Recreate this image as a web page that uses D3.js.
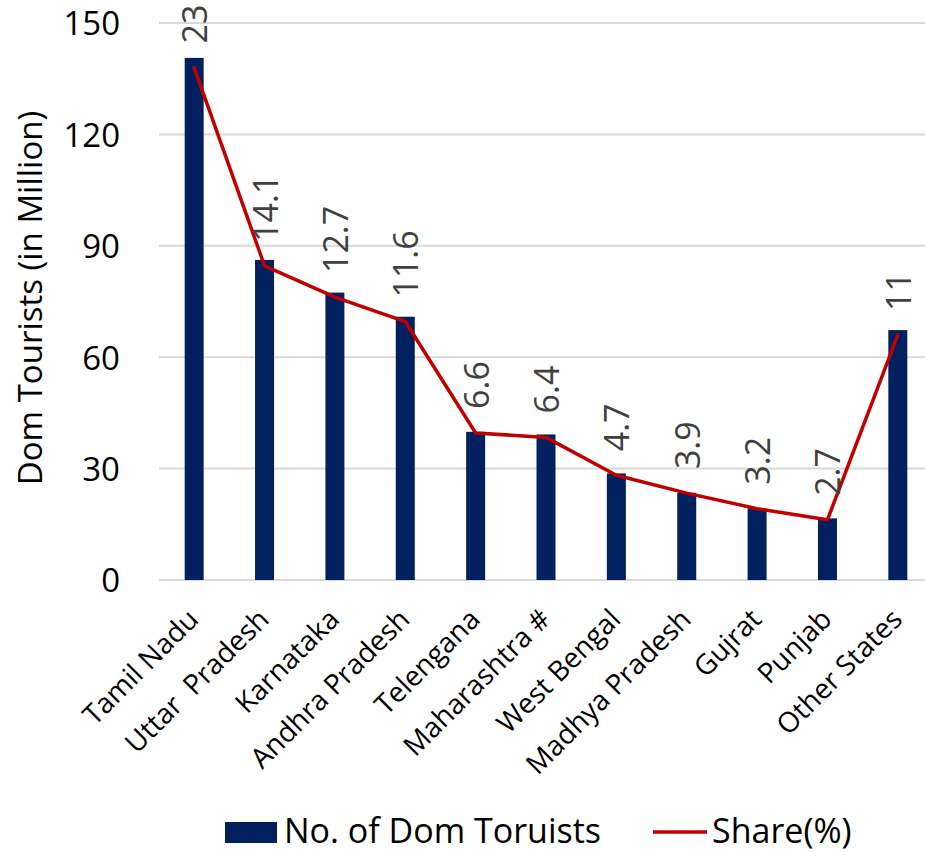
<!DOCTYPE html>
<html>
<head>
<meta charset="utf-8">
<script src="https://cdn.jsdelivr.net/npm/d3@7"></script>
<style>
  html, body { margin: 0; padding: 0; background: #fff; }
  svg { display: block; font-family: "Open Sans", sans-serif; }
</style>
</head>
<body>
<svg id="chart" width="925" height="852"></svg>
<script>
// values
var categories = ["Tamil Nadu", "Uttar  Pradesh", "Karnataka", "Andhra Pradesh", "Telengana",
    "Maharashtra #", "West Bengal", "Madhya Pradesh", "Gujrat", "Punjab", "Other States"];
var tourists = [140.6, 86.2, 77.4, 70.9, 39.9, 39.2, 28.7, 23.5, 19.3, 16.6, 67.3];
var share = [23, 14.1, 12.7, 11.6, 6.6, 6.4, 4.7, 3.9, 3.2, 2.7, 11];
var yTicks = [0, 30, 60, 90, 120, 150];
var seriesNames = ["No. of Dom Toruists", "Share(%)"];

var navy = "#002060",
    red = "#c00000";

var svg = d3.select("#chart");

var plotL = 159, plotR = 933, plotT = 23, plotB = 580;

var x = d3.scaleBand().domain(categories).range([plotL, plotR]).paddingInner(0.73).paddingOuter(0.365);
var y = d3.scaleLinear().domain([0, 150]).range([plotB, plotT]);
var y2 = d3.scaleLinear().domain([0, 25]).range([plotB, plotT]);

function cx(d){ return x(d) + x.bandwidth() / 2; }

// gridlines
svg.append("g").selectAll("line")
    .data(yTicks)
    .enter().append("line")
    .attr("x1", plotL).attr("x2", 925)
    .attr("y1", function(d){ return y(d); })
    .attr("y2", function(d){ return y(d); })
    .attr("stroke", "#d9d9d9")
    .attr("stroke-width", 2);

// left axis labels
var yAxis = svg.append("g")
    .attr("transform", "translate(120,0)")
    .call(d3.axisLeft(y).tickValues(yTicks).tickSize(0).tickPadding(0));
yAxis.select(".domain").remove();
yAxis.selectAll("text")
    .attr("font-family", "Open Sans")
    .attr("font-size", 33)
    .attr("fill", "#000")
    .attr("dy", "0.36em");

// axis title
svg.append("text")
    .attr("transform", "translate(42,298) rotate(-90)")
    .attr("text-anchor", "middle")
    .attr("font-size", 33)
    .attr("fill", "#000")
    .text("Dom Tourists (in Million)");

// bars
svg.append("g").selectAll("rect")
    .data(categories)
    .enter().append("rect")
    .attr("x", function(d){ return x(d); })
    .attr("width", x.bandwidth())
    .attr("y", function(d, i){ return y(tourists[i]); })
    .attr("height", function(d, i){ return y(0) - y(tourists[i]); })
    .attr("fill", navy);

// share line
var line = d3.line()
    .x(function(d, i){ return cx(categories[i]); })
    .y(function(d){ return y2(d); });

svg.append("path")
    .datum(share)
    .attr("d", line)
    .attr("fill", "none")
    .attr("stroke", red)
    .attr("stroke-width", 3.5)
    .attr("stroke-linejoin", "round")
    .attr("stroke-linecap", "round");

// share labels
svg.append("g").selectAll("text")
    .data(share)
    .enter().append("text")
    .attr("transform", function(d, i){
        return "translate(" + (cx(categories[i]) + 13) + "," + (y2(d) - 24) + ") rotate(-90)";
    })
    .attr("font-size", 34)
    .attr("fill", "#404040")
    .text(function(d){ return d; });

// category labels
var xAxis = svg.append("g")
    .attr("transform", "translate(0," + plotB + ")")
    .call(d3.axisBottom(x).tickSize(0).tickPadding(0));
xAxis.select(".domain").remove();
xAxis.selectAll("text")
    .attr("font-family", "Open Sans")
    .attr("font-size", 28)
    .attr("fill", "#000")
    .attr("text-anchor", "end")
    .attr("dy", 0)
    .attr("y", 0)
    .style("white-space", "pre")
    .attr("transform", "translate(6,41) rotate(-45)");

// legend
var legend = svg.append("g");
legend.append("rect")
    .attr("x", 225).attr("y", 822)
    .attr("width", 52).attr("height", 21)
    .attr("fill", navy);
legend.append("text")
    .attr("x", 284).attr("y", 843)
    .attr("font-size", 34)
    .attr("fill", "#000")
    .text(seriesNames[0]);
legend.append("line")
    .attr("x1", 653).attr("x2", 707)
    .attr("y1", 832).attr("y2", 832)
    .attr("stroke", red)
    .attr("stroke-width", 3.5);
legend.append("text")
    .attr("x", 712).attr("y", 843)
    .attr("font-size", 34)
    .attr("fill", "#000")
    .text(seriesNames[1]);
</script>
</body>
</html>
